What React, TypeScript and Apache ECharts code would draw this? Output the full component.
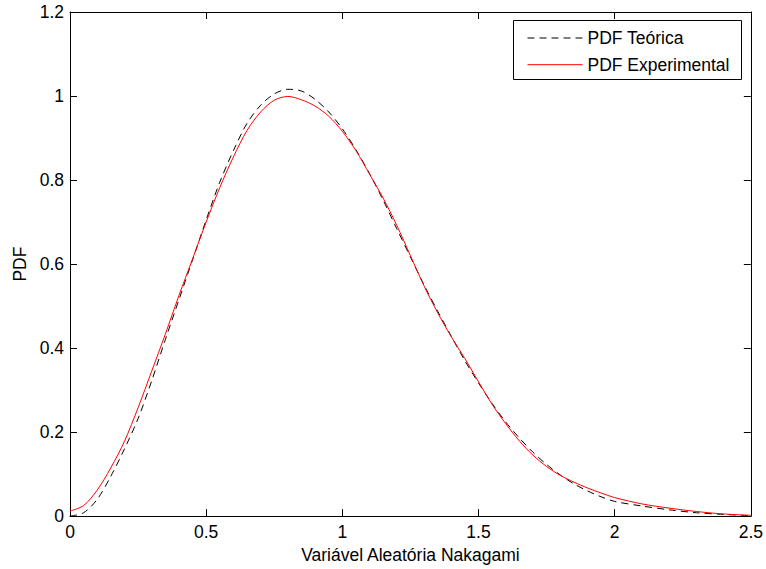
import React, { useEffect, useRef } from "react";
import * as echarts from "echarts";

const xGrid = [
  0, 0.05, 0.1, 0.15, 0.2, 0.25, 0.3, 0.35, 0.4, 0.45, 0.5, 0.55, 0.6, 0.65, 0.7, 0.75, 0.8, 0.85, 0.9, 0.95,
  1.0, 1.05, 1.1, 1.15, 1.2, 1.25, 1.3, 1.35, 1.4, 1.45, 1.5, 1.55, 1.6, 1.65, 1.7, 1.75, 1.8, 1.85, 1.9, 1.95,
  2.0, 2.1, 2.2, 2.3, 2.4, 2.5,
];

const pdfTeorica = [
  0, 0.008, 0.04, 0.095, 0.16, 0.232, 0.322, 0.42, 0.515, 0.61, 0.705, 0.795, 0.87, 0.935, 0.978, 1.005, 1.016, 1.012, 0.992, 0.962,
  0.922, 0.872, 0.815, 0.752, 0.684, 0.617, 0.55, 0.488, 0.428, 0.37, 0.317, 0.268, 0.224, 0.186, 0.152, 0.123, 0.098, 0.077, 0.06, 0.046,
  0.035, 0.024, 0.015, 0.008, 0.004, 0.001,
];

const pdfExperimental = [
  0.012, 0.025, 0.062, 0.115, 0.178, 0.258, 0.345, 0.433, 0.525, 0.612, 0.7, 0.782, 0.855, 0.918, 0.962, 0.99, 0.999, 0.991, 0.976, 0.952,
  0.916, 0.87, 0.814, 0.757, 0.692, 0.62, 0.548, 0.484, 0.427, 0.375, 0.32, 0.266, 0.22, 0.179, 0.145, 0.118, 0.097, 0.081, 0.067, 0.055,
  0.044, 0.029, 0.019, 0.011, 0.005, 0.002,
];

const seriesNames = ["PDF Teórica", "PDF Experimental"];
const xTitle = "Variável Aleatória Nakagami";
const yTitle = "PDF";

const FONT = "'Liberation Sans', Arial, Helvetica, sans-serif";
const FS = 17.5;

export default function App() {
  const ref = useRef<HTMLDivElement>(null);
  useEffect(() => {
    if (!ref.current) return;
    const chart = echarts.init(ref.current, null, { renderer: "svg" });
    const axisLine = { show: true, onZero: false, lineStyle: { color: "#000", width: 1 } };
    const tick = { show: true, inside: true, length: 7, lineStyle: { color: "#000", width: 1 } };
    const label = { color: "#000", fontSize: FS, fontFamily: FONT };
    chart.setOption({
      animation: false,
      backgroundColor: "#fff",
      textStyle: { fontFamily: FONT },
      grid: { left: 70, right: 14.5, top: 12, bottom: 49, containLabel: false },
      legend: {
        orient: "vertical",
        left: 527,
        top: 29,
        itemWidth: 55,
        itemHeight: 18,
        itemGap: 8.7,
        padding: 0,
        z: 20,
        data: seriesNames,
        itemStyle: { opacity: 0 },
        lineStyle: { width: 1 },
        textStyle: { color: "#000", fontSize: FS, fontFamily: FONT, lineHeight: 18 },
      },
      graphic: [
        {
          type: "rect",
          shape: { x: 513.5, y: 20.5, width: 228, height: 59 },
          style: { fill: "#fff", stroke: "#000", lineWidth: 1 },
          z: 5,
        },
      ],
      xAxis: [
        {
          type: "value",
          min: 0,
          max: 2.5,
          interval: 0.5,
          position: "bottom",
          axisLine,
          axisTick: tick,
          axisLabel: { ...label, margin: 7 },
          splitLine: { show: false },
          name: xTitle,
          nameLocation: "middle",
          nameGap: 28,
          nameTextStyle: { color: "#000", fontSize: FS, fontFamily: FONT },
        },
        {
          type: "value",
          min: 0,
          max: 2.5,
          interval: 0.5,
          position: "top",
          axisLine,
          axisTick: tick,
          axisLabel: { show: false },
          splitLine: { show: false },
        },
      ],
      yAxis: [
        {
          type: "value",
          min: 0,
          max: 1.2,
          interval: 0.2,
          position: "left",
          axisLine,
          axisTick: tick,
          axisLabel: { ...label, margin: 6 },
          splitLine: { show: false },
          name: yTitle,
          nameLocation: "middle",
          nameGap: 41,
          nameTextStyle: { color: "#000", fontSize: FS, fontFamily: FONT },
        },
        {
          type: "value",
          min: 0,
          max: 1.2,
          interval: 0.2,
          position: "right",
          axisLine,
          axisTick: tick,
          axisLabel: { show: false },
          splitLine: { show: false },
        },
      ],
      series: [
        {
          name: seriesNames[0],
          type: "line",
          xAxisIndex: 0,
          yAxisIndex: 0,
          data: xGrid.map((x, i) => [x, pdfTeorica[i]]),
          showSymbol: false,
          symbol: "none",
          smooth: 0.3,
          lineStyle: { color: "#000", width: 1, type: [7, 5] },
          itemStyle: { color: "#000" },
        },
        {
          name: seriesNames[1],
          type: "line",
          xAxisIndex: 0,
          yAxisIndex: 0,
          data: xGrid.map((x, i) => [x, pdfExperimental[i]]),
          showSymbol: false,
          symbol: "none",
          smooth: 0.3,
          lineStyle: { color: "#ff0000", width: 1 },
          itemStyle: { color: "#ff0000" },
        },
      ],
    });
    return () => chart.dispose();
  }, []);
  return (
    <div
      ref={ref}
      style={{ position: "fixed", left: 0, top: 0, width: 766, height: 569, background: "#fff" }}
    />
  );
}
